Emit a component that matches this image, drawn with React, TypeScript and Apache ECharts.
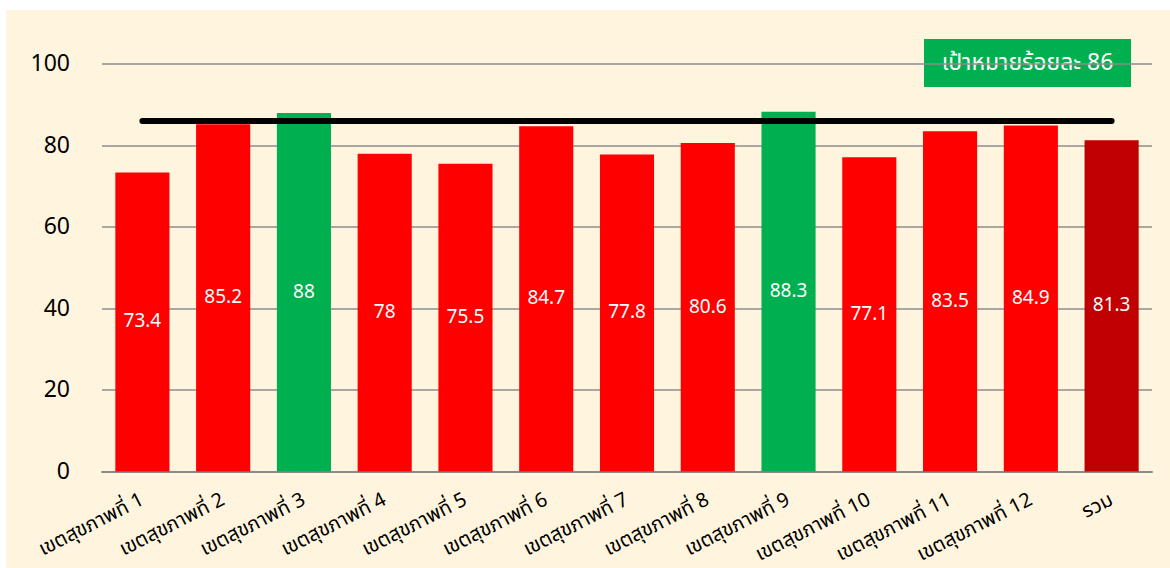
import React, { useEffect, useRef } from "react";
import * as echarts from "echarts";

const categories = [
  "เขตสุขภาพที่ 1",
  "เขตสุขภาพที่ 2",
  "เขตสุขภาพที่ 3",
  "เขตสุขภาพที่ 4",
  "เขตสุขภาพที่ 5",
  "เขตสุขภาพที่ 6",
  "เขตสุขภาพที่ 7",
  "เขตสุขภาพที่ 8",
  "เขตสุขภาพที่ 9",
  "เขตสุขภาพที่ 10",
  "เขตสุขภาพที่ 11",
  "เขตสุขภาพที่ 12",
  "รวม",
];
const values = [73.4, 85.2, 88, 78, 75.5, 84.7, 77.8, 80.6, 88.3, 77.1, 83.5, 84.9, 81.3];
const target = 86;
const targetLabel = "เป้าหมายร้อยละ 86";
const yTicks = { min: 0, max: 100, interval: 20 };

const RED = "#FF0000";
const GREEN = "#00B050";
const DARKRED = "#C00000";
const FONT = "Tahoma, 'Noto Sans Thai', 'Noto Sans', sans-serif";

export default function App() {
  const ref = useRef<HTMLDivElement>(null);
  useEffect(() => {
    if (!ref.current) return;
    const chart = echarts.init(ref.current, undefined, { renderer: "svg" });
    const barData = values.map((v, i) => ({
      value: v,
      itemStyle: {
        color: i === values.length - 1 ? DARKRED : v >= target ? GREEN : RED,
      },
    }));
    chart.setOption({
      animation: false,
      backgroundColor: "#FFF5DF",
      grid: { left: 96, right: 18, top: 54, bottom: 96.5, containLabel: false },
      xAxis: {
        type: "category",
        data: categories,
        axisTick: { show: false },
        axisLine: { show: true, lineStyle: { color: "#8C8C8C", width: 2 } },
        axisLabel: {
          rotate: 27,
          interval: 0,
          color: "#000",
          fontSize: 20,
          fontFamily: FONT,
          margin: 27,
        },
      },
      yAxis: {
        type: "value",
        min: yTicks.min,
        max: yTicks.max,
        interval: yTicks.interval,
        axisLine: { show: false },
        axisTick: { show: false },
        splitLine: { lineStyle: { color: "#8C8C8C", width: 1.5 } },
        axisLabel: { color: "#000", fontSize: 23, fontFamily: FONT, margin: 32 },
      },
      series: [
        {
          type: "bar",
          data: barData,
          barCategoryGap: "33%",
          label: {
            show: true,
            position: "inside",
            color: "#fff",
            fontSize: 19,
            fontFamily: FONT,
          },
        },
        {
          type: "line",
          data: categories.map(() => target),
          symbol: "none",
          lineStyle: { color: "#000", width: 6, cap: "round" },
          z: 5,
        },
      ],
      graphic: [
        {
          type: "group",
          left: 918,
          top: 29,
          children: [
            {
              type: "rect",
              shape: { x: 0, y: 0, width: 207, height: 48 },
              style: { fill: GREEN },
            },
            {
              type: "text",
              x: 103.5,
              y: 24,
              style: {
                text: targetLabel,
                fill: "#fff",
                fontSize: 23,
                fontFamily: FONT,
                align: "center",
                verticalAlign: "middle",
              },
            },
          ],
        },
      ],
    });
    return () => chart.dispose();
  }, []);
  return (
    <div style={{ position: "fixed", left: 0, top: 0, width: 1170, height: 568, background: "#fff" }}>
      <div ref={ref} style={{ position: "absolute", left: 6, top: 10, width: 1164, height: 558 }} />
    </div>
  );
}
